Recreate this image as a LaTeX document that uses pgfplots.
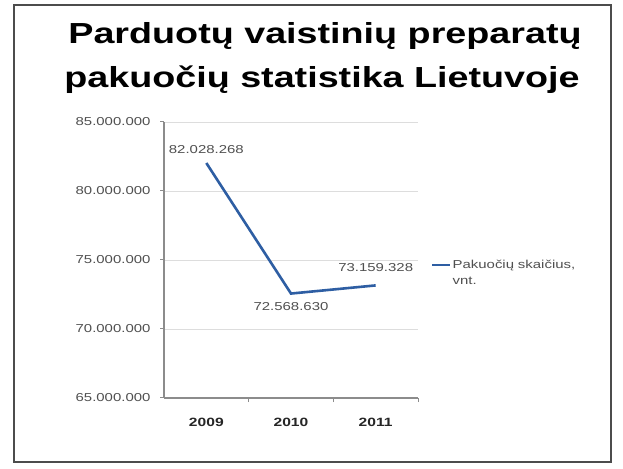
\documentclass[border=0pt]{standalone}
\usepackage{pgfplots}
\pgfplotsset{compat=1.18}
\usepackage{fontspec}
\setmainfont{Liberation Sans}[FakeStretch=1.3]
\definecolor{serie}{HTML}{2E5EA3}
\definecolor{gridc}{HTML}{DDDDDD}
\definecolor{axisc}{HTML}{8C8C8C}
\definecolor{lblc}{HTML}{505050}
\begin{document}
\begin{tikzpicture}
  % page and frame
  \fill[white] (0pt,0pt) rectangle (623pt,468pt);
  \draw[line width=2.8pt, black!70] (14pt,6pt) rectangle (611pt,463pt);
  % title, two lines
  \node[font=\bfseries\fontsize{29}{34}\selectfont, anchor=base, inner sep=0pt] at (325pt,424pt)
    {Parduotų vaistinių preparatų};
  \node[font=\bfseries\fontsize{29}{34}\selectfont, anchor=base, inner sep=0pt] at (322pt,380pt)
    {pakuočių statistika Lietuvoje};
  \begin{axis}[
      at={(164pt,70pt)}, anchor=south west,
      scale only axis, width=254pt, height=276pt,
      xmin=-0.5, xmax=2.5, ymin=65000000, ymax=85000000,
      scaled y ticks=false,
      axis lines*=left,
      axis line style={axisc, line width=1.4pt},
      xtick={0,1,2}, xticklabels={2009,2010,2011},
      major x tick style={draw=none},
      minor xtick={0.5,1.5,2.5},
      minor tick length=4pt,
      minor x tick style={axisc, line width=1pt},
      x tick label style={font=\bfseries\fontsize{12}{14}\selectfont, text=black!85, yshift=-13pt},
      ytick={65000000,70000000,75000000,80000000,85000000},
      yticklabels={65.000.000,70.000.000,75.000.000,80.000.000,85.000.000},
      y tick label style={font=\fontsize{11.5}{13}\selectfont, text=lblc, xshift=-6pt},
      y tick style={axisc, line width=1pt},
      tick align=outside, major tick length=4pt,
      ymajorgrids, grid style={gridc, line width=0.8pt},
      clip=false,
      legend style={at={(rel axis cs:1.04,0.482)}, anchor=west, draw=none, fill=none,
        font=\fontsize{11.5}{16}\selectfont, text=lblc,
        nodes={text width=125pt, align=left}},
      legend cell align=left,
      legend image post style={line width=2.2pt},
    ]
    \addplot[serie, line width=2.6pt] coordinates {
      (0, 82028268)
      (1, 72568630)
      (2, 73159328)
    };
    \addlegendentry{Pakuočių skaičius,\\vnt.}
    \node[font=\fontsize{11.5}{13}\selectfont, text=lblc, above=6pt] at (axis cs:0,82028268) {82.028.268};
    \node[font=\fontsize{11.5}{13}\selectfont, text=lblc, below=5pt] at (axis cs:1,72568630) {72.568.630};
    \node[font=\fontsize{11.5}{13}\selectfont, text=lblc, above=10pt] at (axis cs:2,73159328) {73.159.328};
  \end{axis}
\end{tikzpicture}
\end{document}
